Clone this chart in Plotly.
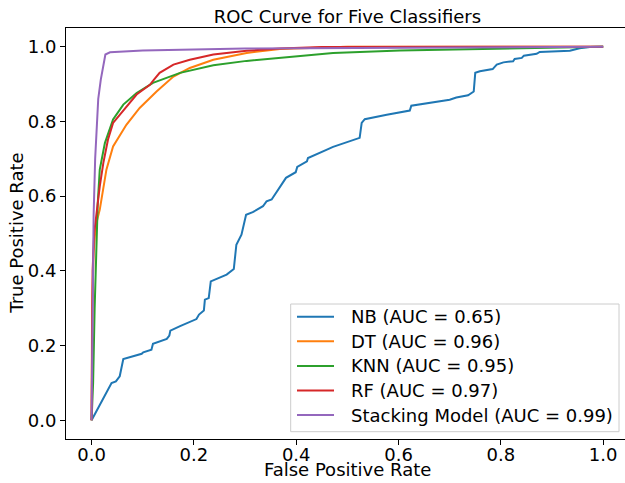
import plotly.graph_objects as go

# ---- data ----
nb_fpr = [0.0, 0.039, 0.0475, 0.055, 0.062, 0.081, 0.098, 0.101, 0.117, 0.120, 0.147, 0.152, 0.154,
          0.173, 0.205, 0.210, 0.2195, 0.2215, 0.229, 0.233, 0.264, 0.278, 0.283, 0.293, 0.302, 0.315,
          0.335, 0.342, 0.352, 0.380, 0.399, 0.402, 0.421, 0.423, 0.4365, 0.459, 0.472, 0.492, 0.524,
          0.528, 0.534, 0.577, 0.622, 0.625, 0.668, 0.700, 0.713, 0.736, 0.747, 0.750, 0.759, 0.784,
          0.792, 0.805, 0.824, 0.827, 0.841, 0.845, 0.870, 0.876, 0.935, 0.954, 0.974, 1.0]
nb_tpr = [0.0, 0.100, 0.104, 0.118, 0.164, 0.171, 0.178, 0.182, 0.189, 0.205, 0.218, 0.227, 0.240,
          0.252, 0.271, 0.283, 0.294, 0.323, 0.327, 0.372, 0.390, 0.405, 0.470, 0.497, 0.550, 0.557,
          0.573, 0.586, 0.591, 0.649, 0.664, 0.678, 0.693, 0.702, 0.711, 0.724, 0.732, 0.742, 0.756,
          0.796, 0.806, 0.818, 0.829, 0.842, 0.851, 0.858, 0.864, 0.870, 0.880, 0.930, 0.934, 0.940,
          0.952, 0.958, 0.961, 0.967, 0.970, 0.976, 0.981, 0.986, 0.989, 0.996, 0.999, 1.0]

dt_fpr = [0.0, 0.001, 0.004, 0.008, 0.016, 0.029, 0.042, 0.068, 0.094, 0.127, 0.160, 0.192, 0.238,
          0.303, 0.368, 0.42, 0.5, 1.0]
dt_tpr = [0.0, 0.30, 0.45, 0.52, 0.564, 0.671, 0.733, 0.791, 0.836, 0.880, 0.920, 0.943, 0.965,
          0.983, 0.994, 0.997, 1.0, 1.0]

knn_fpr = [0.0, 0.003, 0.006, 0.009, 0.012, 0.016, 0.026, 0.042, 0.062, 0.088, 0.120, 0.173, 0.238,
           0.303, 0.368, 0.472, 0.603, 0.798, 0.960, 1.0]
knn_tpr = [0.0, 0.10, 0.30, 0.48, 0.58, 0.671, 0.742, 0.805, 0.845, 0.876, 0.903, 0.930, 0.950,
           0.962, 0.970, 0.983, 0.990, 0.995, 0.999, 1.0]

rf_fpr = [0.0, 0.001, 0.002, 0.005, 0.010, 0.016, 0.023, 0.032, 0.042, 0.052, 0.062, 0.075, 0.088,
          0.100, 0.114, 0.122, 0.133, 0.160, 0.192, 0.238, 0.303, 0.368, 0.45, 1.0]
rf_tpr = [0.0, 0.20, 0.40, 0.50, 0.56, 0.626, 0.689, 0.751, 0.796, 0.812, 0.831, 0.850, 0.872,
          0.884, 0.898, 0.912, 0.930, 0.952, 0.965, 0.979, 0.989, 0.995, 0.999, 1.0]

st_fpr = [0.0, 0.002, 0.004, 0.007, 0.010, 0.013, 0.018, 0.023, 0.027, 0.036, 0.1, 0.3, 0.6, 1.0]
st_tpr = [0.0, 0.30, 0.55, 0.70, 0.80, 0.86, 0.912, 0.956, 0.979, 0.985, 0.990, 0.995, 0.998, 1.0]

names = ["NB (AUC = 0.65)", "DT (AUC = 0.96)", "KNN (AUC = 0.95)", "RF (AUC = 0.97)",
         "Stacking Model (AUC = 0.99)"]
colors = ["#1f77b4", "#ff7f0e", "#2ca02c", "#d62728", "#9467bd"]
series = [(nb_fpr, nb_tpr), (dt_fpr, dt_tpr), (knn_fpr, knn_tpr), (rf_fpr, rf_tpr), (st_fpr, st_tpr)]

tick_vals = [0.0, 0.2, 0.4, 0.6, 0.8, 1.0]
tick_text = ["0.0", "0.2", "0.4", "0.6", "0.8", "1.0"]

FONT = "DejaVu Sans"
FS = 18

# plot-area geometry in pixels
W, H = 625, 483
ML, MR, MT, MB = 66, 0, 28, 44
PW, PH = W - ML - MR, H - MT - MB


def px(x):
    return (x - ML) / PW


def py(y):
    return (H - MB - y) / PH


fig = go.Figure()
for i, ((x, y), n, c) in enumerate(zip(series, names, colors)):
    fig.add_trace(go.Scatter(x=x, y=y, mode="lines", name=n, showlegend=False,
                             line=dict(color=c, width=2)))

# legend drawn as shapes + text (matplotlib-like frame)
shapes = [dict(type="rect", xref="paper", yref="paper",
               x0=px(290.7), x1=px(619), y0=py(431.7), y1=py(304),
               line=dict(color="#cccccc", width=1), fillcolor="rgba(255,255,255,0.8)", layer="above")]
annotations = []
row_y0, row_dy = 316.7, 24.6
for i, (n, c) in enumerate(zip(names, colors)):
    yy = row_y0 + i * row_dy
    shapes.append(dict(type="line", xref="paper", yref="paper", x0=px(297), x1=px(334),
                       y0=py(yy), y1=py(yy), line=dict(color=c, width=2), layer="above"))
    annotations.append(dict(text=n, xref="paper", yref="paper", x=px(349), y=py(yy),
                            xanchor="left", yanchor="middle", showarrow=False,
                            font=dict(family=FONT, size=FS, color="black")))

annotations += [
    dict(text="False Positive Rate", xref="paper", yref="paper",
         x=px(347.5), y=py(469.5), xanchor="center", yanchor="middle",
         showarrow=False, font=dict(family=FONT, size=FS, color="black")),
    dict(text="True Positive Rate", xref="paper", yref="paper", textangle=-90,
         x=px(17), y=py(233.7), xanchor="center", yanchor="middle",
         showarrow=False, font=dict(family=FONT, size=FS, color="black")),
]

fig.update_layout(
    width=W, height=H,
    margin=dict(l=ML, r=MR, t=MT, b=MB),
    paper_bgcolor="white", plot_bgcolor="white",
    font=dict(family=FONT, size=FS, color="black"),
    title=dict(text="ROC Curve for Five Classifiers", x=347.5 / W, xanchor="center",
               y=1 - 17 / H, yanchor="middle", yref="container",
               font=dict(family=FONT, size=FS, color="black")),
    showlegend=False,
    xaxis=dict(range=[-0.05, 1.0427], tickvals=tick_vals, ticktext=tick_text,
               showgrid=False, zeroline=False, showline=True, linecolor="black", linewidth=1.1,
               mirror=True, ticks="outside", ticklen=5, tickwidth=1.1, tickcolor="black",
               ticklabelstandoff=-6),
    yaxis=dict(range=[-0.05, 1.05], tickvals=tick_vals, ticktext=tick_text,
               showgrid=False, zeroline=False, showline=True, linecolor="black", linewidth=1.1,
               ticks="outside", ticklen=5, tickwidth=1.1, tickcolor="black"),
    shapes=shapes,
    annotations=annotations,
)

fig.write_html("out.html")
